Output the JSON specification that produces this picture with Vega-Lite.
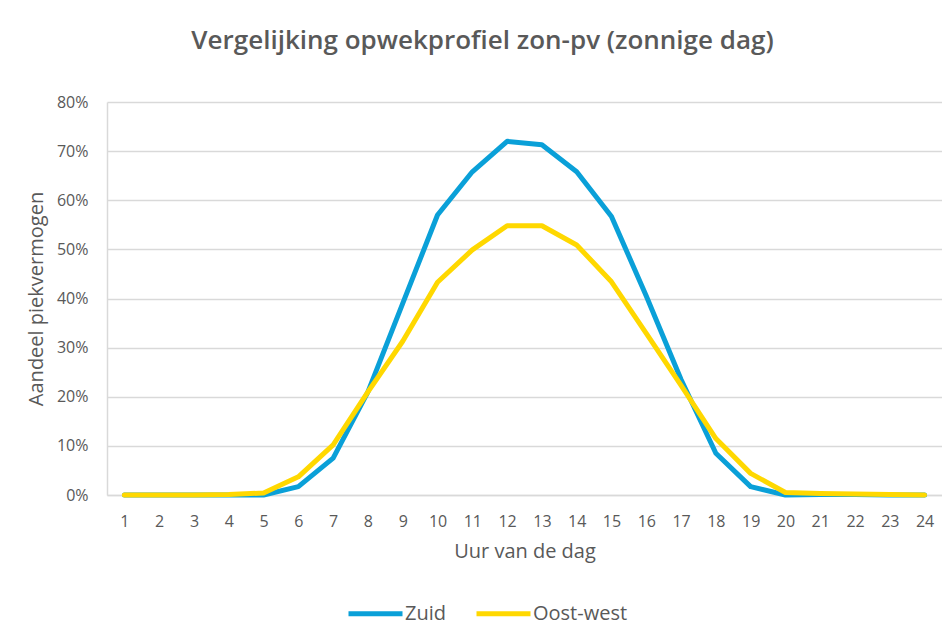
{
  "$schema": "https://vega.github.io/schema/vega-lite/v6.json",
  "width": 835,
  "height": 393,
  "autosize": {"type": "none"},
  "padding": {"left": 107, "top": 102, "right": 0, "bottom": 149},
  "background": "white",
  "title": {
    "text": "Vergelijking opwekprofiel zon-pv (zonnige dag)",
    "fontSize": 26,
    "font": "Open Sans",
    "fontWeight": 600,
    "color": "#595959",
    "anchor": "middle",
    "dx": -42,
    "offset": 40
  },
  "data": {
    "values": [
      {"uur": 1, "type": "Zuid", "aandeel": 0},
      {"uur": 2, "type": "Zuid", "aandeel": 0},
      {"uur": 3, "type": "Zuid", "aandeel": 0},
      {"uur": 4, "type": "Zuid", "aandeel": 0},
      {"uur": 5, "type": "Zuid", "aandeel": 0},
      {"uur": 6, "type": "Zuid", "aandeel": 0.017},
      {"uur": 7, "type": "Zuid", "aandeel": 0.075},
      {"uur": 8, "type": "Zuid", "aandeel": 0.21},
      {"uur": 9, "type": "Zuid", "aandeel": 0.39},
      {"uur": 10, "type": "Zuid", "aandeel": 0.57},
      {"uur": 11, "type": "Zuid", "aandeel": 0.658},
      {"uur": 12, "type": "Zuid", "aandeel": 0.72},
      {"uur": 13, "type": "Zuid", "aandeel": 0.713},
      {"uur": 14, "type": "Zuid", "aandeel": 0.658},
      {"uur": 15, "type": "Zuid", "aandeel": 0.567},
      {"uur": 16, "type": "Zuid", "aandeel": 0.405},
      {"uur": 17, "type": "Zuid", "aandeel": 0.235},
      {"uur": 18, "type": "Zuid", "aandeel": 0.085},
      {"uur": 19, "type": "Zuid", "aandeel": 0.017},
      {"uur": 20, "type": "Zuid", "aandeel": 0},
      {"uur": 21, "type": "Zuid", "aandeel": 0.001},
      {"uur": 22, "type": "Zuid", "aandeel": 0.001},
      {"uur": 23, "type": "Zuid", "aandeel": 0},
      {"uur": 24, "type": "Zuid", "aandeel": 0},
      {"uur": 1, "type": "Oost-west", "aandeel": 0},
      {"uur": 2, "type": "Oost-west", "aandeel": 0},
      {"uur": 3, "type": "Oost-west", "aandeel": 0},
      {"uur": 4, "type": "Oost-west", "aandeel": 0.001},
      {"uur": 5, "type": "Oost-west", "aandeel": 0.004},
      {"uur": 6, "type": "Oost-west", "aandeel": 0.037},
      {"uur": 7, "type": "Oost-west", "aandeel": 0.102},
      {"uur": 8, "type": "Oost-west", "aandeel": 0.21},
      {"uur": 9, "type": "Oost-west", "aandeel": 0.313},
      {"uur": 10, "type": "Oost-west", "aandeel": 0.433},
      {"uur": 11, "type": "Oost-west", "aandeel": 0.499},
      {"uur": 12, "type": "Oost-west", "aandeel": 0.548},
      {"uur": 13, "type": "Oost-west", "aandeel": 0.548},
      {"uur": 14, "type": "Oost-west", "aandeel": 0.509},
      {"uur": 15, "type": "Oost-west", "aandeel": 0.434},
      {"uur": 16, "type": "Oost-west", "aandeel": 0.329},
      {"uur": 17, "type": "Oost-west", "aandeel": 0.223},
      {"uur": 18, "type": "Oost-west", "aandeel": 0.115},
      {"uur": 19, "type": "Oost-west", "aandeel": 0.044},
      {"uur": 20, "type": "Oost-west", "aandeel": 0.005},
      {"uur": 21, "type": "Oost-west", "aandeel": 0.003},
      {"uur": 22, "type": "Oost-west", "aandeel": 0.002},
      {"uur": 23, "type": "Oost-west", "aandeel": 0.001},
      {"uur": 24, "type": "Oost-west", "aandeel": 0}
    ]
  },
  "mark": {"type": "line", "strokeWidth": 5, "strokeJoin": "round", "strokeCap": "round"},
  "encoding": {
    "x": {
      "field": "uur",
      "type": "ordinal",
      "scale": {"type": "point", "padding": 0.5},
      "axis": {
        "title": "Uur van de dag",
        "labelAngle": 0,
        "ticks": false,
        "tickSize": 0,
        "domain": true,
        "domainColor": "#D9D9D9",
        "domainWidth": 1.5,
        "grid": false,
        "labelFont": "Open Sans",
        "labelFontSize": 16,
        "labelColor": "#595959",
        "labelPadding": 18,
        "titleFont": "Open Sans",
        "titleFontSize": 20,
        "titleFontWeight": "normal",
        "titleColor": "#595959",
        "titlePadding": 12
      }
    },
    "y": {
      "field": "aandeel",
      "type": "quantitative",
      "scale": {"domain": [0, 0.8], "nice": false},
      "axis": {
        "format": ".0%",
        "values": [0, 0.1, 0.2, 0.3, 0.4, 0.5, 0.6, 0.7, 0.8],
        "title": "Aandeel piekvermogen",
        "ticks": false,
        "tickSize": 0,
        "grid": true,
        "gridColor": "#D9D9D9",
        "gridWidth": 1.5,
        "domain": true,
        "domainColor": "#D9D9D9",
        "domainWidth": 1.5,
        "labelFont": "Open Sans",
        "labelFontSize": 16,
        "labelColor": "#595959",
        "labelPadding": 19,
        "titleFont": "Open Sans",
        "titleFontSize": 20,
        "titleFontWeight": "normal",
        "titleColor": "#595959",
        "titlePadding": 10
      }
    },
    "color": {
      "field": "type",
      "type": "nominal",
      "sort": ["Zuid", "Oost-west"],
      "scale": {"domain": ["Zuid", "Oost-west"], "range": ["#0AA0D8", "#FFD800"]},
      "legend": {
        "title": null,
        "orient": "none",
        "legendX": 239,
        "legendY": 482,
        "direction": "horizontal",
        "symbolType": "stroke",
        "symbolSize": 2916,
        "symbolStrokeWidth": 5,
        "labelFont": "Open Sans",
        "labelFontSize": 20,
        "labelColor": "#595959",
        "labelOffset": 0,
        "columnPadding": 20
      }
    }
  },
  "config": {"view": {"stroke": null}}
}
